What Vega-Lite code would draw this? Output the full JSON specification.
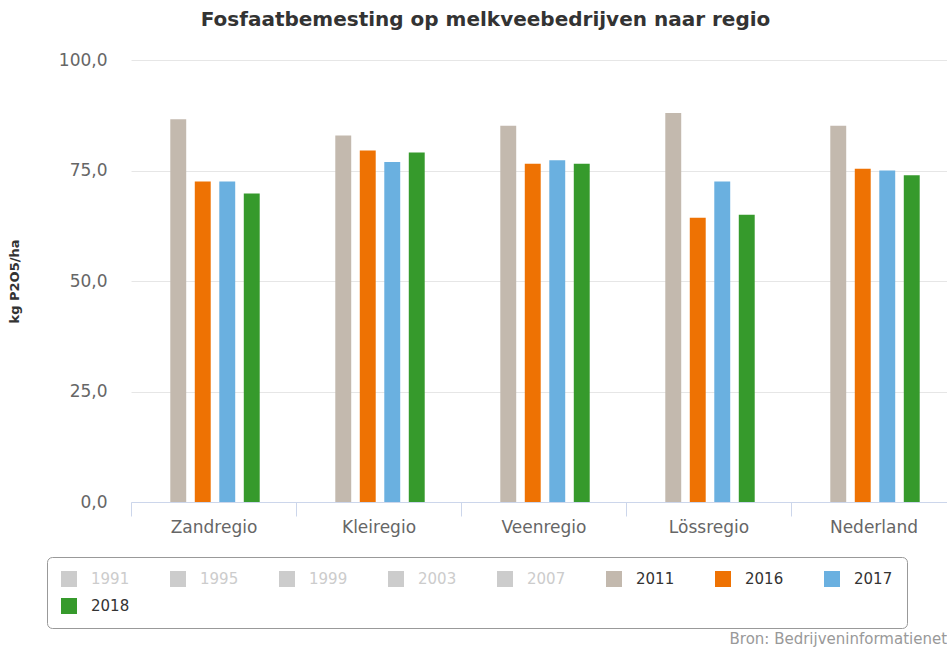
{
  "$schema": "https://vega.github.io/schema/vega-lite/v6.json",
  "autosize": "none",
  "width": 825,
  "height": 442,
  "padding": {"left": 131, "top": 60, "right": -9, "bottom": 145},
  "background": "white",
  "config": {
    "locale": {"number": {"decimal": ",", "thousands": ".", "grouping": [3], "currency": ["€", ""]}},
    "view": {"stroke": null},
    "font": "DejaVu Sans"
  },
  "title": {
    "text": "Fosfaatbemesting op melkveebedrijven naar regio",
    "font": "DejaVu Sans",
    "fontSize": 20,
    "fontWeight": "bold",
    "color": "#333333",
    "anchor": "middle",
    "dx": -58,
    "offset": 21
  },
  "data": {
    "values": [
      {"regio": "Zandregio", "jaar": "2011", "waarde": 86.6},
      {"regio": "Zandregio", "jaar": "2016", "waarde": 72.5},
      {"regio": "Zandregio", "jaar": "2017", "waarde": 72.5},
      {"regio": "Zandregio", "jaar": "2018", "waarde": 69.8},
      {"regio": "Kleiregio", "jaar": "2011", "waarde": 82.9},
      {"regio": "Kleiregio", "jaar": "2016", "waarde": 79.5},
      {"regio": "Kleiregio", "jaar": "2017", "waarde": 76.9},
      {"regio": "Kleiregio", "jaar": "2018", "waarde": 79.1},
      {"regio": "Veenregio", "jaar": "2011", "waarde": 85.1},
      {"regio": "Veenregio", "jaar": "2016", "waarde": 76.5},
      {"regio": "Veenregio", "jaar": "2017", "waarde": 77.3},
      {"regio": "Veenregio", "jaar": "2018", "waarde": 76.5},
      {"regio": "Lössregio", "jaar": "2011", "waarde": 88.0},
      {"regio": "Lössregio", "jaar": "2016", "waarde": 64.3},
      {"regio": "Lössregio", "jaar": "2017", "waarde": 72.5},
      {"regio": "Lössregio", "jaar": "2018", "waarde": 65.0},
      {"regio": "Nederland", "jaar": "2011", "waarde": 85.1},
      {"regio": "Nederland", "jaar": "2016", "waarde": 75.4},
      {"regio": "Nederland", "jaar": "2017", "waarde": 75.0},
      {"regio": "Nederland", "jaar": "2018", "waarde": 73.9}
    ]
  },
  "mark": {"type": "bar"},
  "encoding": {
    "x": {
      "field": "regio",
      "type": "nominal",
      "sort": ["Zandregio", "Kleiregio", "Veenregio", "Lössregio", "Nederland"],
      "scale": {"paddingInner": 0, "paddingOuter": 0},
      "axis": {
        "labelAngle": 0,
        "labelFont": "DejaVu Sans",
        "labelFontSize": 17,
        "labelColor": "#666666",
        "labelPadding": 3,
        "domainColor": "#ccd6eb",
        "tickColor": "#ccd6eb",
        "tickSize": 14,
        "tickBand": "extent",
        "grid": false,
        "title": "Bron: Bedrijveninformatienet",
        "titleFont": "DejaVu Sans",
        "titleFontSize": 15,
        "titleFontWeight": "normal",
        "titleColor": "#999999",
        "titleAlign": "left",
        "titleBaseline": "middle",
        "titleX": 598,
        "titleY": 136
      }
    },
    "xOffset": {
      "field": "jaar",
      "type": "nominal",
      "scale": {"paddingInner": 0.35, "paddingOuter": 0.175, "range": [35, 133]}
    },
    "y": {
      "field": "waarde",
      "type": "quantitative",
      "scale": {"domain": [0, 100]},
      "axis": {
        "values": [0, 25, 50, 75, 100],
        "format": ".1f",
        "labelFont": "DejaVu Sans",
        "labelFontSize": 17,
        "labelColor": "#666666",
        "labelPadding": 24,
        "ticks": false,
        "tickSize": 0,
        "domain": false,
        "gridColor": "#e6e6e6",
        "title": "kg P2O5/ha",
        "titleFont": "DejaVu Sans",
        "titleFontSize": 13,
        "titleFontWeight": "bold",
        "titleColor": "#333333",
        "titlePadding": 37
      }
    },
    "color": {
      "field": "jaar",
      "type": "nominal",
      "scale": {
        "domain": ["1991", "1995", "1999", "2003", "2007", "2011", "2016", "2017", "2018"],
        "range": ["#cccccc", "#cccccc", "#cccccc", "#cccccc", "#cccccc", "#c3b9ae", "#ee7203", "#6ab0e0", "#369a2c"]
      },
      "legend": {
        "orient": "none",
        "legendX": -84,
        "legendY": 497,
        "direction": "horizontal",
        "columns": 8,
        "title": null,
        "symbolType": "square",
        "symbolSize": 256,
        "symbolStrokeWidth": 0,
        "symbolOpacity": 1,
        "labelFont": "DejaVu Sans",
        "labelFontSize": 15,
        "labelColor": "#333333",
        "labelOffset": 14,
        "columnPadding": 40,
        "rowPadding": 11,
        "padding": 14,
        "strokeColor": "#999999",
        "fillColor": "white",
        "cornerRadius": 5,
        "encode": {
          "labels": {"update": {"fill": {"signal": "datum.label < '2011' ? '#cccccc' : '#333333'"}}}
        }
      }
    }
  }
}
